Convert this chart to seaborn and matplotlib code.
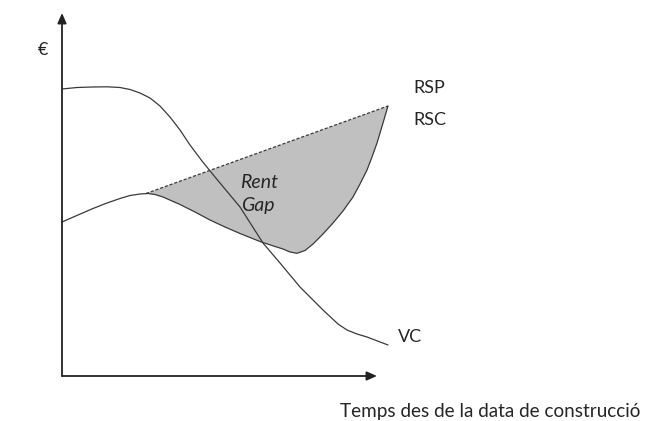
import numpy as np
import matplotlib
matplotlib.use("Agg")
import matplotlib.pyplot as plt
import seaborn as sns

# Rent-gap diagram: time since construction (x) vs. value in € (y)
vc_x = [0, 15, 30, 45, 58, 68, 78, 88, 98, 108, 118, 128, 140, 153, 178, 201, 218,
        238, 261, 276, 285, 295, 305, 326]
vc_y = [287, 288.5, 289, 289.2, 288.5, 286.5, 283, 278, 270, 259, 246, 231, 215, 199,
        169, 133, 113, 89, 66, 52, 46, 42, 39, 31]

rsc_x = [0, 16, 31, 45, 58, 68, 78, 86, 93, 101, 110, 118, 133, 148, 163, 178, 198,
         213, 221, 228, 235, 243, 251, 261, 271, 281, 291, 298, 305, 310, 315, 321, 326]
rsc_y = [154, 161, 167.5, 173, 177.5, 180.5, 182, 182.5, 181.5, 179, 175, 171.5, 164,
         156, 149, 142.5, 134.5, 129.5, 127, 124, 122.7, 125.5, 132, 142, 153, 165,
         179, 192, 206, 219, 233, 253, 270]

# potential rent: follows RSC up to the peak, then rises in a straight line
rsp_x = [84, 326]
rsp_y = [182.5, 270]

labels = {"rsp": "RSP", "rsc": "RSC", "vc": "VC", "rent": "Rent", "gap": "Gap",
          "y": "€", "x": "Temps des de la data de construcció"}

sns.set_theme(style="white")
plt.rcParams["font.family"] = ["Lato", "DejaVu Sans"]

fig = plt.figure(figsize=(6.46, 4.21), dpi=100)
ax = fig.add_axes([0, 0, 1, 1])
ax.set_xlim(-62, 584)
ax.set_ylim(-45, 376)
ax.axis("off")

line_col = "#3a3a3a"

# shaded rent gap between RSP and RSC
rx = np.array(rsc_x, dtype=float)
ry = np.array(rsc_y, dtype=float)
mask = rx > rsp_x[0]
poly_x = np.concatenate([rsp_x, rx[mask][::-1]])
poly_y = np.concatenate([rsp_y, ry[mask][::-1]])
ax.fill(poly_x, poly_y, color="#c0c0c0", lw=0, zorder=1)

sns.lineplot(x=rsc_x, y=rsc_y, ax=ax, sort=False, estimator=None,
             color=line_col, lw=0.9, zorder=3)
sns.lineplot(x=rsp_x, y=rsp_y, ax=ax, sort=False, estimator=None,
             color=line_col, lw=0.9, linestyle=(0, (2.5, 1.5)), zorder=3)
sns.lineplot(x=vc_x, y=vc_y, ax=ax, sort=False, estimator=None,
             color=line_col, lw=0.9, zorder=3)

# axes drawn as arrows from the origin
arrow = dict(arrowstyle="-|>,head_length=0.5,head_width=0.22",
             color="#222222", lw=1.3, shrinkA=0, shrinkB=0)
ax.annotate("", xy=(315, 0), xytext=(0, 0), arrowprops=arrow)
ax.annotate("", xy=(0, 363), xytext=(0, 0), arrowprops=arrow)

fs = 13
ax.text(351, 283, labels["rsp"], fontsize=fs, va="baseline", ha="left")
ax.text(351, 251, labels["rsc"], fontsize=fs, va="baseline", ha="left")
ax.text(336, 34, labels["vc"], fontsize=fs, va="baseline", ha="left")
ax.text(178, 188, labels["rent"], fontsize=14, style="italic", va="baseline", ha="left")
ax.text(179, 165, labels["gap"], fontsize=14, style="italic", va="baseline", ha="left")
ax.text(-19, 321, labels["y"], fontsize=fs, va="baseline", ha="center")
ax.text(278, -41, labels["x"], fontsize=13.6, va="baseline", ha="left")

fig.savefig("out.png", dpi=100)
